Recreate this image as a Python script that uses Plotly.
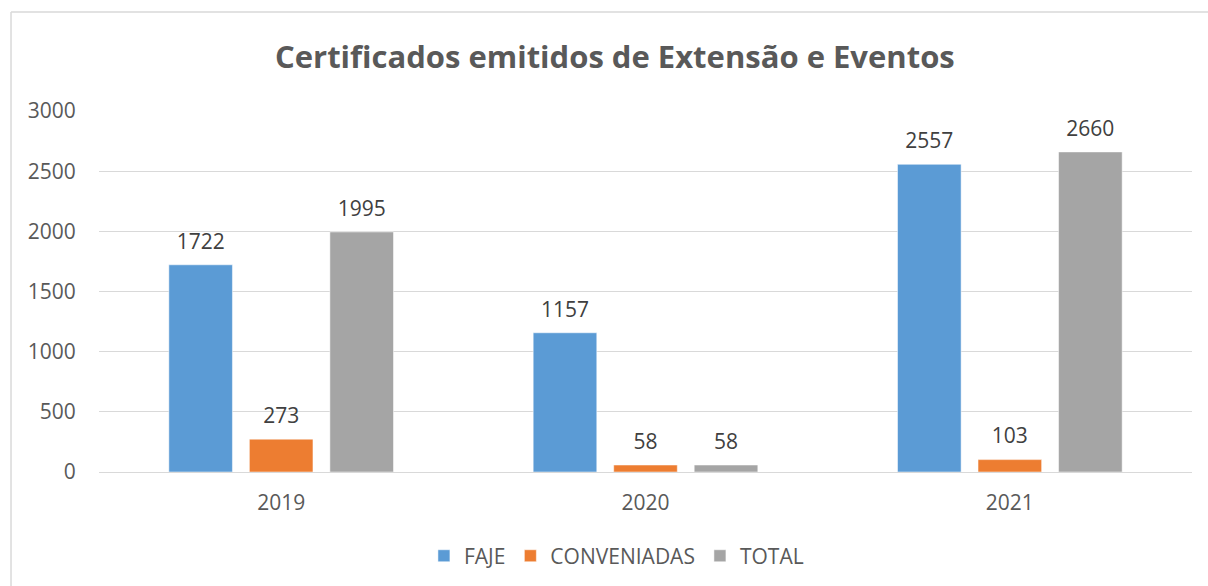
import plotly.graph_objects as go

anos = ["2019", "2020", "2021"]
faje = [1722, 1157, 2557]
conveniadas = [273, 58, 103]
total = [1995, 58, 2660]

series = [("FAJE", faje, "#5B9BD5"),
          ("CONVENIADAS", conveniadas, "#ED7D31"),
          ("TOTAL", total, "#A5A5A5")]

fonte = "Open Sans, Noto Sans, sans-serif"
cinza = "#595959"
borda = "#D9D9D9"

fig = go.Figure()
for nome, valores, cor in series:
    fig.add_trace(go.Bar(
        x=anos, y=valores, name=nome, offsetgroup=nome,
        marker=dict(color=cor, line=dict(color="rgba(255,255,255,0.5)", width=1)),
    ))
# rótulos de dados acima das barras
for nome, valores, cor in series:
    fig.add_trace(go.Scatter(
        x=anos, y=valores, offsetgroup=nome, mode="markers+text",
        text=[str(v) for v in valores], textposition="top center",
        marker=dict(size=16, opacity=0), showlegend=False, hoverinfo="skip",
        textfont=dict(size=21, color="#404040", family=fonte), cliponaxis=False,
    ))

fig.update_layout(
    width=1208, height=586,
    paper_bgcolor="white", plot_bgcolor="white",
    margin=dict(l=99, r=16, t=111, b=114),
    barmode="group", scattermode="group", bargap=0.337, bargroupgap=0.21,
    font=dict(family=fonte, color=cinza, size=21),
    title=dict(text="<b>Certificados emitidos de Extensão e Eventos</b>",
               x=0.509, xref="container", xanchor="center",
               y=0.903, yref="container", yanchor="middle",
               font=dict(size=31, color=cinza, family=fonte)),
    legend=dict(orientation="h", x=0.4734, xanchor="center",
                y=0.051, yref="container", yanchor="middle",
                font=dict(size=21, color=cinza), itemwidth=30,
                traceorder="normal"),
    xaxis=dict(showgrid=False, ticks="outside", ticklen=12, tickcolor="rgba(0,0,0,0)",
               showline=False, tickfont=dict(size=21, color=cinza)),
    yaxis=dict(range=[0, 3000], dtick=500, showgrid=True, gridcolor=borda,
               gridwidth=1, zeroline=True, zerolinecolor=borda, zerolinewidth=1,
               ticks="outside", ticklen=18, tickcolor="rgba(0,0,0,0)",
               tickfont=dict(size=21, color=cinza)),
    # moldura do gráfico (só esquerda e topo aparecem no recorte)
    shapes=[dict(type="line", xref="paper", yref="paper",
                 x0=-0.0805, x1=-0.0805, y0=-0.4, y1=1.274,
                 line=dict(color=borda, width=1.5)),
            dict(type="line", xref="paper", yref="paper",
                 x0=-0.0805, x1=1.05, y0=1.274, y1=1.274,
                 line=dict(color=borda, width=1.5))],
)

fig.write_html("out.html", config={"displayModeBar": False},
               post_script="document.body.style.margin='0';document.body.style.overflow='hidden';")
